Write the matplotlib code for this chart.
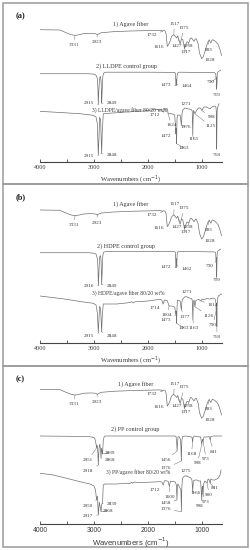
import numpy as np
import matplotlib
matplotlib.use("Agg")
import matplotlib.pyplot as plt
from matplotlib.patches import Rectangle
from matplotlib.ticker import FixedLocator

# ---------------- data (wavenumber cm-1, relative transmittance a.u.) ----------------
WN_AGAVE = [4000, 3630, 3505, 3420, 3351, 3270, 3196, 3100, 3011, 2960, 2937, 2900, 2856, 2640, 2330,
            2000, 1774, 1745, 1732, 1715, 1681, 1660, 1638, 1615, 1588, 1560, 1538, 1517, 1490, 1464,
            1445, 1427, 1400, 1375, 1350, 1317, 1290, 1270, 1250, 1238, 1210, 1190, 1165, 1143, 1120,
            1100, 1065, 1040, 1000, 970, 940, 908, 880, 859, 845, 830, 815, 800, 760, 720, 692, 660, 630]
T_AGAVE = [0, -0.3, -3.3, -5, -5.7, -5, -4, -3.7, -3.7, -4.2, -5, -3.8, -3, -2, -1.3,
           -0.9, -0.6, -0.8, -1.8, -0.8, -1, -4, -16.7, -15, -11.7, -7, -5.7, -5, -6.5, -8.3,
           -6, -9, -14.3, -9, -10, -19, -14, -12, -12.5, -13, -8.5, -8.3, -10, -11.7, -9.5,
           -9, -14, -23.3, -29, -27, -22, -16, -12, -10, -12, -13.3, -11, -10, -11, -13, -15, -20, -25.7]

WN_LLDPE = [4000, 3100, 3000, 2960, 2935, 2925, 2918, 2910, 2895, 2880, 2865, 2856, 2848, 2835, 2820,
            2780, 2000, 1500, 1485, 1478, 1472, 1468, 1464, 1458, 1450, 1420, 1000, 760, 740, 732,
            728, 722, 716, 712, 700, 680, 650]
T_LLDPE = [0, 0, -0.5, -1.5, -5, -15, -31, -19, -5, -2.5, -8, -29.5, -19, -3, 0.5,
           1.5, 1.5, 1.3, 0, -11.7, -12, -6, -11, -3, 0.5, 1.5, 1.2, 1, 0, -5,
           -4, -15, -10, -1, 1.5, 2.5, 3.5]

WN_LLDPE_AG = [4000, 3567, 3258, 3011, 2960, 2935, 2918, 2905, 2893, 2875, 2856, 2845, 2825, 2577, 2400,
               2330, 2300, 2280, 2250, 2200, 2083, 1835, 1760, 1740, 1712, 1690, 1640, 1630, 1624, 1560,
               1500, 1478, 1472, 1466, 1458, 1450, 1400, 1376, 1365, 1353, 1310, 1271, 1240, 1200, 1175,
               1165, 1158, 1150, 1125, 1100, 1060, 1032, 1010, 998, 960, 908, 880, 846, 800, 760, 735,
               728, 722, 716, 712, 700, 679]
T_LLDPE_AG = [0.7, -0.7, -1.7, -3.3, -5, -12, -43.3, -25, -5, -8, -41.7, -20, -1.7, -0.7, 0,
              0, 0.8, 0.3, 1, 0.6, 1, 2.7, 2.7, 1.5, 0, 3, 3.3, 1.5, -1.7, -1.7,
              -3, -21.7, -16, -31.7, -8, -3.3, -3, -13.3, -2, 1.7, 4, 3.5, 3, 2.7, 1,
              -23.3, -5, 1.7, -1.7, 1, 4, 4, 3, 1.5, 5, 5, 4, 3.3, 5.5, 6, 5,
              0, -36.7, -10, 2, 5, 8.3]

WN_HDPE = [4000, 3100, 3000, 2960, 2935, 2925, 2916, 2905, 2893, 2875, 2865, 2856, 2846, 2835, 2820,
           2780, 2000, 1500, 1485, 1478, 1472, 1468, 1462, 1456, 1450, 1420, 1000, 760, 740, 732,
           727, 722, 716, 712, 700, 680, 650]
T_HDPE = [0, 0, -0.5, -1.5, -6, -15, -33, -18, -4, -3, -10, -32, -18, -3, 0.5,
          1.2, 1.2, 1, 0, -15, -15, -6, -13, -3, 0.5, 1.2, 1, 0.8, 0, -10,
          -5, -24, -10, -1, 1.5, 2.5, 3.5]

WN_HDPE_AG = [4000, 3505, 3258, 3011, 2960, 2935, 2918, 2905, 2893, 2875, 2856, 2845, 2826, 2577, 2400,
              2330, 2300, 2270, 2240, 2100, 1959, 1774, 1740, 1714, 1690, 1640, 1604, 1560, 1500, 1478,
              1472, 1466, 1458, 1450, 1400, 1377, 1365, 1341, 1310, 1271, 1230, 1190, 1175, 1163, 1155,
              1140, 1126, 1110, 1093, 1050, 1014, 990, 960, 908, 850, 785, 750, 735, 730, 726, 722,
              718, 714, 705, 690, 650, 630]
T_HDPE_AG = [7, 3.7, 1.5, -0.3, -2, -10, -30, -15, -3, -6, -29, -14, -1, -1, 0,
             0.5, 1.3, 0, 1.2, 1.5, 2.3, 3.7, 3, -1, 3, 2.5, -3, -3, -4, -12,
             -8, -20.3, -6, 3, 2, -7, 2, 4.7, 6.3, 6, 5, 4.5, 3, -17, 1,
             3, -3.7, 2, 3, 3.5, 2, 4, 3, 4.5, 4, 5, 4, 0, -7, 0, -2,
             -23.7, -3, 4, 7, 8.5, 9]

WN_PP = [4000, 3100, 3000, 2980, 2960, 2951, 2940, 2925, 2918, 2905, 2890, 2875, 2868, 2858, 2848,
         2839, 2825, 2810, 2790, 1500, 1475, 1462, 1456, 1448, 1440, 1420, 1395, 1385, 1376, 1368,
         1355, 1300, 1250, 1180, 1168, 1160, 1140, 1100, 1020, 998, 985, 973, 960, 900, 860,
         841, 830, 780, 700, 630]
T_PP = [0, -0.5, -1.5, -3, -8, -12, -9, -18, -29, -12, -8, -15, -22, -12, -15,
        -18, -4, -1, 0, 0, -0.5, -8, -15, -8, -1, -0.5, -3, -10, -25, -5,
        -0.5, 0, -0.5, -1, -6.5, -2, 0, -0.5, -1, -8.5, -3, -5.5, -1, -1, -0.5,
        -4.3, -0.5, 0, 0, 0]

WN_PP_AG = [4000, 3753, 3505, 3258, 3072, 2998, 2970, 2950, 2935, 2917, 2900, 2868, 2855, 2839, 2826,
            2800, 2577, 2400, 2330, 2300, 2280, 2250, 2145, 1900, 1774, 1740, 1712, 1690, 1640, 1620,
            1600, 1580, 1520, 1490, 1470, 1458, 1450, 1440, 1385, 1376, 1368, 1355, 1320, 1275, 1240,
            1200, 1180, 1166, 1155, 1120, 1090, 1050, 1020, 998, 990, 980, 973, 965, 940, 900, 880,
            860, 841, 830, 800, 760, 720, 690, 660, 640]
T_PP_AG = [8.7, 7, 3.7, 0.3, -2, -4, -8, -18, -14, -33, -20, -29.7, -22, -21.3, -3,
           -2, -2, -1.2, -1.5, -0.2, -1.2, 0, -0.7, 0, 0.3, 0, -3, 1.3, 1, 0.5,
           -4.7, 0.8, 0.5, 0, -3, -18, -3, -2, -8, -29.7, -5, 3.7, 6, 6, 5,
           4, 2, -9.7, 1, 2, 2, 1, 1, -18, -5, -4, -13, -2, 1, -1, 3,
           2, -1.5, 3, 2, 2, 3, 4, 7, 12]

TICK_MAJOR = [4000, 3000, 2000, 1000]
TICK_MINOR = [3500, 2500, 1500]
PANEL_LETTERS = ["(a)", "(b)", "(c)"]
TITLES = [["1) Agave fiber", "2) LLDPE control group", "3) LLDPE/agave fiber 80/20 wt%"],
          ["1) Agave fiber", "2) HDPE control group", "3) HDPE/agave fiber 80/20 wt%"],
          ["1) Agave fiber", "2) PP control group", "3) PP/agave fiber 80/20 wt%"]]

# peak labels: (text, peak wn, text wn, text height relative to the spectrum offset, ha)
LAB_AGAVE = [("3331", 3351, 3364, -15, "center"), ("2923", 2937, 2948, -12.5, "center"),
             ("1732", 1732, 1829, -5, "right"), ("1616", 1638, 1699, -17.6, "right"),
             ("1517", 1517, 1508, 5.7, "center"), ("1375", 1375, 1330, 1.8, "center"),
             ("1427", 1427, 1458, -16.6, "center"), ("1238", 1238, 1262, -16.6, "center"),
             ("1317", 1317, 1291, -22.3, "center"), ("893", 880, 865, -20, "center"),
             ("1028", 1000, 939, -30.6, "left")]
LAB_LLDPE = [("2915", 2918, 2990, -29.6, "right"), ("2849", 2856, 2770, -29.6, "left"),
             ("1473", 1478, 1560, -11.6, "right"), ("1464", 1464, 1380, -12.3, "left"),
             ("730", 732, 760, -8.3, "right"), ("719", 722, 716, -21.6, "center")]
LAB_LLDPE_AG = [("2915", 2918, 2990, -44, "right"), ("2848", 2856, 2770, -42.7, "left"),
                ("1712", 1712, 1770, -3.3, "right"), ("1624", 1624, 1560, -13.3, "center"),
                ("1472", 1478, 1560, -24, "right"), ("1463", 1466, 1420, -36, "left"),
                ("1376", 1376, 1290, -15, "center"), ("1271", 1271, 1290, 8.3, "center"),
                ("1165", 1165, 1150, -27.3, "center"), ("1125", 1125, 835, -14.3, "center"),
                ("998", 998, 812, -5, "center"), ("718", 722, 716, -43, "center")]
LAB_HDPE = [("2916", 2916, 2990, -33, "right"), ("2849", 2856, 2770, -33, "left"),
            ("1472", 1478, 1560, -14.6, "right"), ("1462", 1462, 1380, -16.6, "left"),
            ("730", 732, 785, -13.3, "right"), ("719", 722, 716, -27.3, "center")]
LAB_HDPE_AG = [("2915", 2918, 2990, -33, "right"), ("2848", 2856, 2770, -33, "left"),
               ("1714", 1714, 1770, -5, "right"), ("1604", 1604, 1640, -12, "center"),
               ("1473", 1478, 1560, -17, "right"), ("1463", 1466, 1420, -25, "left"),
               ("1377", 1377, 1310, -14, "center"), ("1271", 1271, 1270, 11, "center"),
               ("1163", 1163, 1140, -25, "center"), ("1126", 1126, 870, -13, "center"),
               ("1014", 1014, 790, -2, "center"), ("730", 730, 790, -22, "center"),
               ("718", 718, 716, -34, "center")]
LAB_PP = [("2951", 2951, 3010, -24, "right"), ("2918", 2918, 3010, -35, "right"),
          ("2868", 2868, 2790, -24, "left"), ("2839", 2839, 2790, -16.7, "left"),
          ("1456", 1456, 1570, -24, "right"), ("1376", 1376, 1570, -32.3, "right"),
          ("1168", 1168, 1190, -18.3, "center"), ("998", 998, 1080, -27.3, "center"),
          ("973", 973, 915, -23.3, "center"), ("841", 841, 775, -15.7, "center")]
LAB_PP_AG = [("2950", 2950, 3010, -23.7, "right"), ("2917", 2917, 3010, -33.7, "right"),
             ("2868", 2868, 2830, -28.7, "left"), ("2839", 2839, 2770, -22, "left"),
             ("1712", 1712, 1770, -8, "right"), ("1600", 1600, 1600, -15, "center"),
             ("1458", 1458, 1570, -21, "right"), ("1376", 1376, 1570, -27, "right"),
             ("1275", 1275, 1300, 11, "center"), ("1166", 1166, 1120, -11, "center"),
             ("998", 998, 1040, -24, "center"), ("973", 973, 930, -20, "center"),
             ("900", 900, 860, -13, "center"), ("841", 841, 760, -6, "center")]

# ---------------- layout ----------------
W, H = 250, 550
AX_L, AX_R = 40, 221.6
AXIS_LINE = [162, 343, 524]          # pixel row of the x axis in each panel
PANEL_TOP = [3, 184, 366]
PANEL_BOT = [184, 366, 547]
PANEL_H = 159
OFFSETS = [(132.3, 88.3, 50), (133, 90.3, 40), (134.7, 88, 42)]
TITLE_Y = [(138, 96, 52.3), (138.5, 97, 49.5), (140, 95, 52)]
TITLE_X = [(131, 126, 130), (131, 126, 128), (136, 135, 138)]
TITLE_FS = [(4.4, 4.4, 4.0), (4.4, 4.4, 4.0), (4.4, 4.4, 4.0)]

SERIES = [[(WN_AGAVE, T_AGAVE, LAB_AGAVE), (WN_LLDPE, T_LLDPE, LAB_LLDPE), (WN_LLDPE_AG, T_LLDPE_AG, LAB_LLDPE_AG)],
          [(WN_AGAVE, T_AGAVE, LAB_AGAVE), (WN_HDPE, T_HDPE, LAB_HDPE), (WN_HDPE_AG, T_HDPE_AG, LAB_HDPE_AG)],
          [(WN_AGAVE, T_AGAVE, LAB_AGAVE), (WN_PP, T_PP, LAB_PP), (WN_PP_AG, T_PP_AG, LAB_PP_AG)]]

SERIF = ["Liberation Serif", "DejaVu Serif"]
SANS = ["Liberation Sans", "DejaVu Sans"]
LINE_C = "#707070"
TXT_C = "#3a3a3a"
LAB_FS = 3.7

fig = plt.figure(figsize=(W / 100, H / 100), dpi=100)
fig.patch.set_facecolor("white")

def px2wn(px):
    return 4000 - (px - AX_L) / (AX_R - AX_L) * (4000 - 630)

for p in range(3):
    bottom = (H - AXIS_LINE[p]) / H
    ax = fig.add_axes([AX_L / W, bottom, (AX_R - AX_L) / W, PANEL_H / H])
    ax.set_xlim(4000, 630)
    ax.set_ylim(0, PANEL_H)
    ax.patch.set_alpha(0)
    for s in ("top", "left", "right"):
        ax.spines[s].set_visible(False)
    ax.spines["bottom"].set_color("#444444")
    ax.spines["bottom"].set_linewidth(0.8)
    ax.set_yticks([])
    ax.xaxis.set_major_locator(FixedLocator(TICK_MAJOR))
    ax.xaxis.set_minor_locator(FixedLocator(TICK_MINOR))
    ax.tick_params(axis="x", which="both", direction="in", length=2.5, width=0.6, color="#444444",
                   pad=2.5, labelcolor=TXT_C)
    fam = SANS if p == 2 else SERIF
    tfs = 4.9 if p == 2 else 4.5
    ax.set_xticks(TICK_MAJOR)
    ax.set_xticklabels([str(t) for t in TICK_MAJOR], family=fam, fontsize=tfs)

    for k, (wn, t, labs) in enumerate(SERIES[p]):
        off = OFFSETS[p][k]
        y = off + np.asarray(t, float)
        ax.plot(wn, y, color=LINE_C, lw=0.5, solid_joinstyle="miter")
        ax.text(px2wn(TITLE_X[p][k]), TITLE_Y[p][k], TITLES[p][k], family=SERIF, fontsize=TITLE_FS[p][k],
                color=TXT_C, ha="center", va="center")
        for (txt, pk, tx, ty, ha) in labs:
            py = off + np.interp(-pk, -np.asarray(wn, float), np.asarray(t, float))
            ax.annotate(txt, xy=(pk, py), xytext=(tx, off + ty), textcoords="data",
                        ha=ha, va="center", family=SERIF, fontsize=LAB_FS, color=TXT_C,
                        arrowprops=dict(arrowstyle="-", lw=0.35, color=LINE_C,
                                        shrinkA=0.3, shrinkB=0))

    # panel letter
    fig.text(16 / W, 1 - (PANEL_TOP[p] + 13) / H, PANEL_LETTERS[p], family=SERIF, fontsize=6,
             fontweight="bold", color="#222222", ha="left", va="center")
    # x label
    if p == 2:
        fig.text(131 / W, 1 - 542.5 / H, "Wavenumbers (cm$^{-1}$)", family=SANS, fontsize=5.6,
                 color=TXT_C, ha="center", va="center")
    else:
        fig.text(131 / W, 1 - (AXIS_LINE[p] + 18) / H, "Wavenumbers (cm$^{-1}$)", family=SERIF,
                 fontsize=4.8, color=TXT_C, ha="center", va="center")
    # border box
    fig.add_artist(Rectangle((3 / W, 1 - PANEL_BOT[p] / H), 245 / W,
                             (PANEL_BOT[p] - PANEL_TOP[p]) / H, transform=fig.transFigure,
                             fill=False, ec="#9a9a9a", lw=1.1))

fig.savefig("out.png", dpi=100, facecolor="white")
